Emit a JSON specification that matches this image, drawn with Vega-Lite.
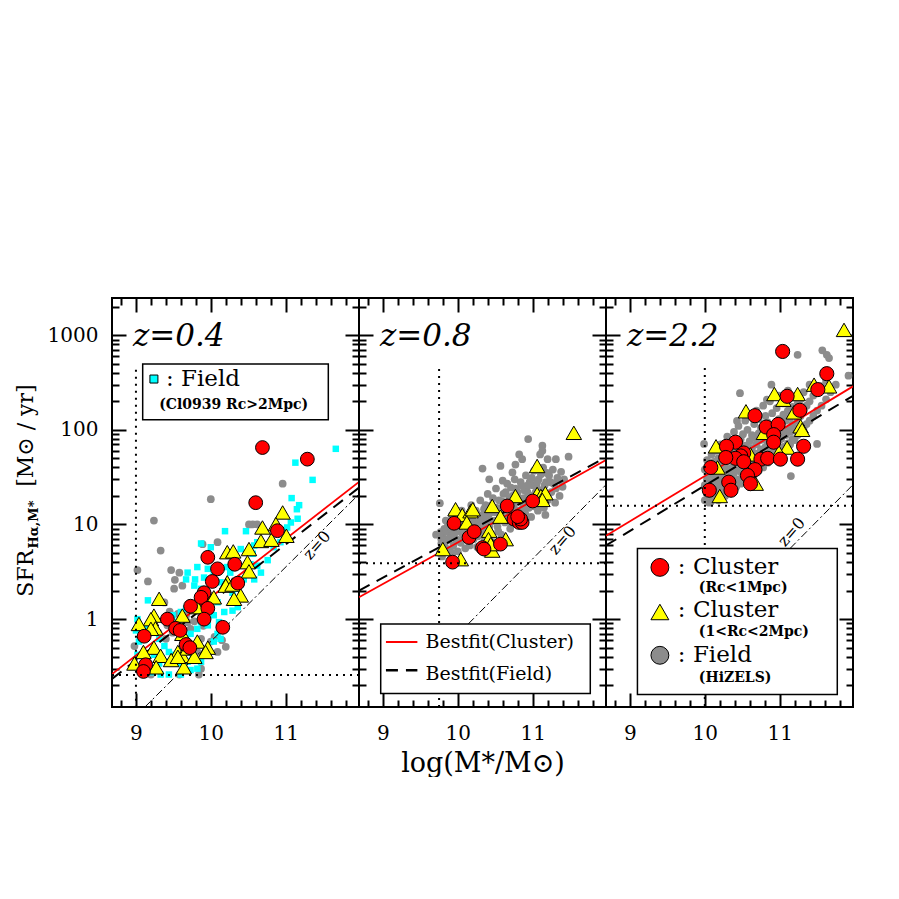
{
"$schema": "https://vega.github.io/schema/vega-lite/v6.json",
"background": "white",
"padding": {"left": 13, "top": 295, "right": 0, "bottom": 0},
"spacing": 0,
"bounds": "flush",
"datasets": {
"pts": [
{"p":1,"t":"G","m":10.96,"s":27},{"p":1,"t":"G","m":10.0,"s":18.5},{"p":1,"t":"G","m":9.24,"s":11},{"p":1,"t":"G","m":10.56,"s":10},{"p":1,"t":"G","m":10.51,"s":10},{"p":1,"t":"G","m":10.62,"s":10},{"p":1,"t":"G","m":10.09,"s":6.5},{"p":1,"t":"G","m":9.89,"s":6.2},{"p":1,"t":"G","m":9.33,"s":5.3},{"p":1,"t":"G","m":9.47,"s":3.3},{"p":1,"t":"G","m":9.58,"s":3.1},{"p":1,"t":"G","m":9.02,"s":3.3},{"p":1,"t":"G","m":9.16,"s":2.5},{"p":1,"t":"G","m":9.62,"s":2.26},{"p":1,"t":"G","m":9.51,"s":2.1},{"p":1,"t":"G","m":9.38,"s":1.5},{"p":1,"t":"G","m":9.56,"s":1.14},{"p":1,"t":"G","m":9.69,"s":0.93},{"p":1,"t":"G","m":9.42,"s":0.86},{"p":1,"t":"G","m":10.13,"s":0.79},{"p":1,"t":"G","m":10.2,"s":0.51},{"p":1,"t":"G","m":9.82,"s":0.45},{"p":1,"t":"G","m":10.09,"s":0.45},{"p":1,"t":"G","m":9.73,"s":0.79},{"p":1,"t":"G","m":9.87,"s":0.62},{"p":1,"t":"G","m":10.0,"s":0.58},{"p":1,"t":"G","m":9.6,"s":0.68},{"p":1,"t":"G","m":9.87,"s":0.3},{"p":1,"t":"G","m":9.84,"s":0.26},{"p":1,"t":"G","m":9.58,"s":0.26},{"p":1,"t":"G","m":9.2,"s":0.26},{"p":1,"t":"G","m":8.98,"s":0.52},{"p":1,"t":"G","m":9.11,"s":0.76},{"p":1,"t":"G","m":9.98,"s":1.78},{"p":1,"t":"G","m":9.87,"s":1.14},{"p":1,"t":"G","m":9.49,"s":0.72},{"p":1,"t":"G","m":9.67,"s":1.1},{"p":1,"t":"G","m":9.52,"s":2.6},{"p":1,"t":"G","m":9.45,"s":1.2},{"p":1,"t":"G","m":9.78,"s":0.95},{"p":1,"t":"G","m":10.05,"s":0.65},{"p":1,"t":"G","m":10.15,"s":0.6},{"p":1,"t":"G","m":9.9,"s":0.85},{"p":1,"t":"G","m":9.65,"s":0.62},{"p":1,"t":"G","m":9.4,"s":0.62},{"p":1,"t":"G","m":9.3,"s":0.72},
{"p":1,"t":"C","m":11.67,"s":63},{"p":1,"t":"C","m":11.13,"s":45},{"p":1,"t":"C","m":11.36,"s":29.6},{"p":1,"t":"C","m":11.08,"s":19},{"p":1,"t":"C","m":11.18,"s":16},{"p":1,"t":"C","m":11.15,"s":14.5},{"p":1,"t":"C","m":11.16,"s":11.5},{"p":1,"t":"C","m":11.07,"s":10.5},{"p":1,"t":"C","m":10.47,"s":8.5},{"p":1,"t":"C","m":10.62,"s":6.5},{"p":1,"t":"C","m":10.19,"s":8.5},{"p":1,"t":"C","m":9.87,"s":6.3},{"p":1,"t":"C","m":10.0,"s":5.75},{"p":1,"t":"C","m":9.69,"s":3.1},{"p":1,"t":"C","m":9.79,"s":2.63},{"p":1,"t":"C","m":9.91,"s":2.75},{"p":1,"t":"C","m":10.13,"s":2.45},{"p":1,"t":"C","m":10.26,"s":3.1},{"p":1,"t":"C","m":10.58,"s":2.63},{"p":1,"t":"C","m":10.44,"s":2.63},{"p":1,"t":"C","m":10.62,"s":3.67},{"p":1,"t":"C","m":10.67,"s":3.1},{"p":1,"t":"C","m":10.76,"s":4.2},{"p":1,"t":"C","m":10.36,"s":1.34},{"p":1,"t":"C","m":10.29,"s":1.23},{"p":1,"t":"C","m":10.04,"s":1.1},{"p":1,"t":"C","m":10.11,"s":0.93},{"p":1,"t":"C","m":10.09,"s":0.7},{"p":1,"t":"C","m":10.04,"s":0.58},{"p":1,"t":"C","m":10.13,"s":0.62},{"p":1,"t":"C","m":9.96,"s":0.42},{"p":1,"t":"C","m":9.87,"s":0.355},{"p":1,"t":"C","m":9.82,"s":0.3},{"p":1,"t":"C","m":9.73,"s":0.29},{"p":1,"t":"C","m":9.6,"s":0.26},{"p":1,"t":"C","m":9.44,"s":0.26},{"p":1,"t":"C","m":9.33,"s":0.26},{"p":1,"t":"C","m":9.2,"s":0.275},{"p":1,"t":"C","m":9.11,"s":0.34},{"p":1,"t":"C","m":9.02,"s":0.42},{"p":1,"t":"C","m":9.04,"s":0.58},{"p":1,"t":"C","m":9.11,"s":0.62},{"p":1,"t":"C","m":9.16,"s":0.79},{"p":1,"t":"C","m":9.0,"s":0.76},{"p":1,"t":"C","m":9.02,"s":1.0},{"p":1,"t":"C","m":9.16,"s":1.58},{"p":1,"t":"C","m":9.44,"s":0.45},{"p":1,"t":"C","m":9.51,"s":0.42},{"p":1,"t":"C","m":9.42,"s":0.355},{"p":1,"t":"C","m":9.56,"s":0.34},{"p":1,"t":"C","m":9.69,"s":0.355},{"p":1,"t":"C","m":9.76,"s":0.42},{"p":1,"t":"C","m":9.67,"s":0.62},{"p":1,"t":"C","m":9.73,"s":0.7},{"p":1,"t":"C","m":9.82,"s":0.79},{"p":1,"t":"C","m":9.87,"s":0.93},{"p":1,"t":"C","m":9.96,"s":0.86},{"p":1,"t":"C","m":9.56,"s":0.93},{"p":1,"t":"C","m":9.49,"s":1.1},{"p":1,"t":"C","m":9.67,"s":1.29},{"p":1,"t":"C","m":9.6,"s":1.19},{"p":1,"t":"C","m":9.31,"s":0.62},{"p":1,"t":"C","m":9.38,"s":0.52},{"p":1,"t":"C","m":9.24,"s":0.42},{"p":1,"t":"C","m":9.31,"s":0.34},{"p":1,"t":"C","m":9.78,"s":2.26},{"p":1,"t":"C","m":9.87,"s":2.09},{"p":1,"t":"C","m":10.04,"s":2.9},{"p":1,"t":"C","m":10.22,"s":3.55},{"p":1,"t":"C","m":10.4,"s":5.5},{"p":1,"t":"C","m":10.58,"s":6.0},{"p":1,"t":"C","m":10.56,"s":4.9},{"p":1,"t":"C","m":10.29,"s":1.9},{"p":1,"t":"C","m":10.36,"s":2.09},{"p":1,"t":"C","m":10.09,"s":1.51},{"p":1,"t":"C","m":10.18,"s":1.19},{"p":1,"t":"C","m":10.53,"s":3.8},{"p":1,"t":"C","m":10.84,"s":5.75},{"p":1,"t":"C","m":10.93,"s":6.5},{"p":1,"t":"C","m":10.96,"s":8.3},{"p":1,"t":"C","m":11.02,"s":9.3},{"p":1,"t":"C","m":9.67,"s":2.63},{"p":1,"t":"C","m":9.82,"s":3.55},{"p":1,"t":"C","m":9.96,"s":3.4},
{"p":1,"t":"Y","m":10.96,"s":13.4},{"p":1,"t":"Y","m":10.69,"s":9.3},{"p":1,"t":"Y","m":10.87,"s":10.1},{"p":1,"t":"Y","m":10.67,"s":6.7},{"p":1,"t":"Y","m":10.81,"s":6.9},{"p":1,"t":"Y","m":11.01,"s":7.6},{"p":1,"t":"Y","m":10.51,"s":5.5},{"p":1,"t":"Y","m":10.22,"s":5.1},{"p":1,"t":"Y","m":10.3,"s":5.2},{"p":1,"t":"Y","m":10.49,"s":4.0},{"p":1,"t":"Y","m":10.51,"s":3.2},{"p":1,"t":"Y","m":10.22,"s":2.45},{"p":1,"t":"Y","m":10.2,"s":2.26},{"p":1,"t":"Y","m":10.29,"s":2.32},{"p":1,"t":"Y","m":10.4,"s":1.78},{"p":1,"t":"Y","m":10.31,"s":1.64},{"p":1,"t":"Y","m":10.04,"s":1.7},{"p":1,"t":"Y","m":9.31,"s":1.64},{"p":1,"t":"Y","m":9.82,"s":1.34},{"p":1,"t":"Y","m":9.62,"s":1.09},{"p":1,"t":"Y","m":9.24,"s":1.09},{"p":1,"t":"Y","m":9.2,"s":1.0},{"p":1,"t":"Y","m":9.04,"s":0.89},{"p":1,"t":"Y","m":9.26,"s":0.8},{"p":1,"t":"Y","m":9.2,"s":0.79},{"p":1,"t":"Y","m":9.62,"s":0.7},{"p":1,"t":"Y","m":9.82,"s":0.58},{"p":1,"t":"Y","m":9.96,"s":0.5},{"p":1,"t":"Y","m":9.93,"s":0.45},{"p":1,"t":"Y","m":9.24,"s":0.5},{"p":1,"t":"Y","m":9.33,"s":0.41},{"p":1,"t":"Y","m":9.56,"s":0.45},{"p":1,"t":"Y","m":9.62,"s":0.41},{"p":1,"t":"Y","m":9.69,"s":0.49},{"p":1,"t":"Y","m":9.47,"s":0.37},{"p":1,"t":"Y","m":9.78,"s":0.4},{"p":1,"t":"Y","m":8.98,"s":0.34},{"p":1,"t":"Y","m":9.27,"s":0.31},{"p":1,"t":"Y","m":9.64,"s":0.31},{"p":1,"t":"Y","m":9.56,"s":0.4},{"p":1,"t":"Y","m":9.1,"s":0.45},
{"p":1,"t":"R","m":10.69,"s":65},{"p":1,"t":"R","m":11.29,"s":49},{"p":1,"t":"R","m":10.6,"s":17},{"p":1,"t":"R","m":10.89,"s":8.6},{"p":1,"t":"R","m":9.96,"s":4.5},{"p":1,"t":"R","m":10.32,"s":3.8},{"p":1,"t":"R","m":10.09,"s":3.4},{"p":1,"t":"R","m":10.02,"s":2.5},{"p":1,"t":"R","m":10.36,"s":2.4},{"p":1,"t":"R","m":9.91,"s":1.9},{"p":1,"t":"R","m":9.87,"s":1.7},{"p":1,"t":"R","m":9.73,"s":1.37},{"p":1,"t":"R","m":9.96,"s":1.3},{"p":1,"t":"R","m":9.42,"s":1.0},{"p":1,"t":"R","m":9.91,"s":1.0},{"p":1,"t":"R","m":9.53,"s":0.8},{"p":1,"t":"R","m":9.59,"s":0.76},{"p":1,"t":"R","m":10.16,"s":0.82},{"p":1,"t":"R","m":9.11,"s":0.66},{"p":1,"t":"R","m":9.67,"s":0.54},{"p":1,"t":"R","m":9.72,"s":0.5},{"p":1,"t":"R","m":9.13,"s":0.33},{"p":1,"t":"R","m":9.1,"s":0.28},
{"p":2,"t":"G","m":10.94,"s":80},{"p":2,"t":"G","m":11.13,"s":68},{"p":2,"t":"G","m":11.13,"s":60},{"p":2,"t":"G","m":11.31,"s":49},{"p":2,"t":"G","m":11.2,"s":49},{"p":2,"t":"G","m":11.48,"s":52},{"p":2,"t":"G","m":11.1,"s":55},{"p":2,"t":"G","m":10.82,"s":55},{"p":2,"t":"G","m":10.86,"s":49},{"p":2,"t":"G","m":10.57,"s":41.5},{"p":2,"t":"G","m":10.77,"s":43},{"p":2,"t":"G","m":10.73,"s":35.5},{"p":2,"t":"G","m":10.33,"s":39},{"p":2,"t":"G","m":10.42,"s":30},{"p":2,"t":"G","m":10.6,"s":29},{"p":2,"t":"G","m":10.71,"s":24.5},{"p":2,"t":"G","m":11.0,"s":26},{"p":2,"t":"G","m":9.76,"s":16.8},{"p":2,"t":"G","m":11.17,"s":12.6},{"p":2,"t":"G","m":9.71,"s":7.8},
{"p":2,"t":"G","m":9.76,"s":5.0},{"p":2,"t":"G","m":9.78,"s":6.3},{"p":2,"t":"G","m":9.8,"s":7.5},{"p":2,"t":"G","m":9.82,"s":9.0},{"p":2,"t":"G","m":9.84,"s":11},{"p":2,"t":"G","m":9.77,"s":8.3},{"p":2,"t":"G","m":9.79,"s":4.6},{"p":2,"t":"G","m":9.86,"s":6.8},{"p":2,"t":"G","m":9.88,"s":5.4},{"p":2,"t":"G","m":9.9,"s":8.0},{"p":2,"t":"G","m":9.92,"s":12.5},{"p":2,"t":"G","m":9.94,"s":6.0},{"p":2,"t":"G","m":9.96,"s":9.5},{"p":2,"t":"G","m":9.98,"s":7.0},{"p":2,"t":"G","m":10.0,"s":5.2},{"p":2,"t":"G","m":10.0,"s":11.5},{"p":2,"t":"G","m":10.02,"s":8.5},{"p":2,"t":"G","m":10.04,"s":6.4},{"p":2,"t":"G","m":10.05,"s":14},{"p":2,"t":"G","m":10.07,"s":9.8},{"p":2,"t":"G","m":10.08,"s":7.6},{"p":2,"t":"G","m":10.1,"s":5.6},{"p":2,"t":"G","m":10.11,"s":12},{"p":2,"t":"G","m":10.13,"s":8.8},{"p":2,"t":"G","m":10.15,"s":10.5},{"p":2,"t":"G","m":10.16,"s":6.0},{"p":2,"t":"G","m":10.18,"s":16},{"p":2,"t":"G","m":10.2,"s":11},{"p":2,"t":"G","m":10.21,"s":7.0},{"p":2,"t":"G","m":10.23,"s":9.3},{"p":2,"t":"G","m":10.25,"s":13},{"p":2,"t":"G","m":10.26,"s":5.8},{"p":2,"t":"G","m":10.28,"s":8.0},{"p":2,"t":"G","m":10.3,"s":18},{"p":2,"t":"G","m":10.31,"s":11.5},{"p":2,"t":"G","m":10.33,"s":9.0},{"p":2,"t":"G","m":10.35,"s":14.5},{"p":2,"t":"G","m":10.36,"s":6.8},{"p":2,"t":"G","m":10.38,"s":10},{"p":2,"t":"G","m":10.4,"s":21},{"p":2,"t":"G","m":10.41,"s":12.5},{"p":2,"t":"G","m":10.43,"s":8.2},{"p":2,"t":"G","m":10.45,"s":16},{"p":2,"t":"G","m":10.46,"s":10.8},{"p":2,"t":"G","m":10.48,"s":6.5},{"p":2,"t":"G","m":10.5,"s":13.5},{"p":2,"t":"G","m":10.51,"s":24},{"p":2,"t":"G","m":10.53,"s":9.5},{"p":2,"t":"G","m":10.55,"s":18},{"p":2,"t":"G","m":10.56,"s":11.5},{"p":2,"t":"G","m":10.58,"s":7.8},{"p":2,"t":"G","m":10.6,"s":15},{"p":2,"t":"G","m":10.61,"s":21},{"p":2,"t":"G","m":10.63,"s":10.5},{"p":2,"t":"G","m":10.65,"s":13},{"p":2,"t":"G","m":10.66,"s":27},{"p":2,"t":"G","m":10.68,"s":17},{"p":2,"t":"G","m":10.7,"s":9.0},{"p":2,"t":"G","m":10.71,"s":12},{"p":2,"t":"G","m":10.73,"s":20},{"p":2,"t":"G","m":10.75,"s":15},{"p":2,"t":"G","m":10.76,"s":30},{"p":2,"t":"G","m":10.78,"s":11},{"p":2,"t":"G","m":10.8,"s":22},{"p":2,"t":"G","m":10.81,"s":14},{"p":2,"t":"G","m":10.83,"s":17.5},{"p":2,"t":"G","m":10.85,"s":26},{"p":2,"t":"G","m":10.86,"s":9.8},{"p":2,"t":"G","m":10.88,"s":19},{"p":2,"t":"G","m":10.9,"s":13},{"p":2,"t":"G","m":10.91,"s":33},{"p":2,"t":"G","m":10.93,"s":22},{"p":2,"t":"G","m":10.95,"s":15},{"p":2,"t":"G","m":10.96,"s":28},{"p":2,"t":"G","m":10.98,"s":12},{"p":2,"t":"G","m":11.0,"s":20},{"p":2,"t":"G","m":11.02,"s":37},{"p":2,"t":"G","m":11.03,"s":16},{"p":2,"t":"G","m":11.05,"s":25},{"p":2,"t":"G","m":11.07,"s":14},{"p":2,"t":"G","m":11.08,"s":30},{"p":2,"t":"G","m":11.1,"s":19},{"p":2,"t":"G","m":11.12,"s":23},{"p":2,"t":"G","m":11.14,"s":40},{"p":2,"t":"G","m":11.15,"s":15},{"p":2,"t":"G","m":11.18,"s":28},{"p":2,"t":"G","m":11.2,"s":18},{"p":2,"t":"G","m":11.22,"s":33},{"p":2,"t":"G","m":11.25,"s":22},{"p":2,"t":"G","m":11.28,"s":27},{"p":2,"t":"G","m":11.3,"s":17},{"p":2,"t":"G","m":11.33,"s":31},{"p":2,"t":"G","m":11.36,"s":20},{"p":2,"t":"G","m":11.4,"s":25},
{"p":2,"t":"G","m":9.78,"s":7.0},{"p":2,"t":"G","m":9.83,"s":5.8},{"p":2,"t":"G","m":9.85,"s":8.5},{"p":2,"t":"G","m":9.87,"s":10},{"p":2,"t":"G","m":9.89,"s":7.2},{"p":2,"t":"G","m":9.91,"s":9.0},{"p":2,"t":"G","m":9.93,"s":5.0},{"p":2,"t":"G","m":9.95,"s":7.8},{"p":2,"t":"G","m":9.97,"s":11},{"p":2,"t":"G","m":9.99,"s":8.8},{"p":2,"t":"G","m":10.01,"s":6.8},{"p":2,"t":"G","m":10.03,"s":10.2},{"p":2,"t":"G","m":10.06,"s":8.0},{"p":2,"t":"G","m":10.09,"s":11},{"p":2,"t":"G","m":10.12,"s":7.2},{"p":2,"t":"G","m":10.14,"s":9.5},{"p":2,"t":"G","m":10.17,"s":12.5},{"p":2,"t":"G","m":10.19,"s":8.5},{"p":2,"t":"G","m":10.22,"s":10.5},{"p":2,"t":"G","m":10.24,"s":14},{"p":2,"t":"G","m":10.27,"s":7.5},{"p":2,"t":"G","m":10.29,"s":10.5},{"p":2,"t":"G","m":10.32,"s":12.5},{"p":2,"t":"G","m":10.34,"s":7.8},{"p":2,"t":"G","m":10.37,"s":16},{"p":2,"t":"G","m":10.39,"s":11.5},{"p":2,"t":"G","m":10.42,"s":9.5},{"p":2,"t":"G","m":10.44,"s":13.5},{"p":2,"t":"G","m":10.47,"s":19},{"p":2,"t":"G","m":10.49,"s":11},{"p":2,"t":"G","m":10.52,"s":15},{"p":2,"t":"G","m":10.54,"s":8.5},{"p":2,"t":"G","m":10.57,"s":13},{"p":2,"t":"G","m":10.59,"s":17.5},{"p":2,"t":"G","m":10.62,"s":11.8},{"p":2,"t":"G","m":10.64,"s":22},{"p":2,"t":"G","m":10.67,"s":14},{"p":2,"t":"G","m":10.69,"s":19},{"p":2,"t":"G","m":10.72,"s":10},{"p":2,"t":"G","m":10.74,"s":16},{"p":2,"t":"G","m":10.77,"s":24},{"p":2,"t":"G","m":10.79,"s":13},{"p":2,"t":"G","m":10.82,"s":19},{"p":2,"t":"G","m":10.84,"s":28},{"p":2,"t":"G","m":10.87,"s":15},{"p":2,"t":"G","m":10.89,"s":23},{"p":2,"t":"G","m":10.92,"s":17},{"p":2,"t":"G","m":10.94,"s":26},{"p":2,"t":"G","m":10.97,"s":20},{"p":2,"t":"G","m":10.99,"s":31},{"p":2,"t":"G","m":11.01,"s":15.5},{"p":2,"t":"G","m":11.04,"s":22},{"p":2,"t":"G","m":11.06,"s":28},{"p":2,"t":"G","m":11.09,"s":17},{"p":2,"t":"G","m":11.11,"s":34},{"p":2,"t":"G","m":11.13,"s":22},{"p":2,"t":"G","m":11.16,"s":26},{"p":2,"t":"G","m":11.19,"s":35},{"p":2,"t":"G","m":11.21,"s":21},{"p":2,"t":"G","m":11.24,"s":28},{"p":2,"t":"G","m":11.27,"s":38},{"p":2,"t":"G","m":11.31,"s":24},{"p":2,"t":"G","m":11.35,"s":29},{"p":2,"t":"G","m":11.38,"s":36},{"p":2,"t":"G","m":11.42,"s":30},
{"p":2,"t":"Y","m":11.55,"s":93},{"p":2,"t":"Y","m":11.06,"s":41.5},{"p":2,"t":"Y","m":9.97,"s":14.5},{"p":2,"t":"Y","m":10.06,"s":12.6},{"p":2,"t":"Y","m":10.17,"s":13.8},{"p":2,"t":"Y","m":10.2,"s":14.5},{"p":2,"t":"Y","m":10.46,"s":15.7},{"p":2,"t":"Y","m":10.57,"s":12.1},{"p":2,"t":"Y","m":10.77,"s":20},{"p":2,"t":"Y","m":11.06,"s":21},{"p":2,"t":"Y","m":11.11,"s":20},{"p":2,"t":"Y","m":11.17,"s":21.4},{"p":2,"t":"Y","m":11.13,"s":18.2},{"p":2,"t":"Y","m":10.42,"s":8.6},{"p":2,"t":"Y","m":10.41,"s":7.0},{"p":2,"t":"Y","m":10.46,"s":5.3},{"p":2,"t":"Y","m":10.64,"s":7.0},{"p":2,"t":"Y","m":9.8,"s":5.5},{"p":2,"t":"Y","m":10.04,"s":4.3},{"p":2,"t":"Y","m":10.12,"s":10.5},{"p":2,"t":"Y","m":10.44,"s":6.2},
{"p":2,"t":"R","m":9.95,"s":10.3},{"p":2,"t":"R","m":9.93,"s":4.0},{"p":2,"t":"R","m":10.15,"s":7.3},{"p":2,"t":"R","m":10.22,"s":8.4},{"p":2,"t":"R","m":10.33,"s":5.7},{"p":2,"t":"R","m":10.35,"s":5.5},{"p":2,"t":"R","m":10.57,"s":6.2},{"p":2,"t":"R","m":10.66,"s":15.7},{"p":2,"t":"R","m":10.75,"s":11.4},{"p":2,"t":"R","m":10.82,"s":10.5},{"p":2,"t":"R","m":10.86,"s":10.5},{"p":2,"t":"R","m":10.84,"s":11.4},{"p":2,"t":"R","m":10.8,"s":12.1},{"p":2,"t":"R","m":11.0,"s":17.7},
{"p":3,"t":"G","m":11.24,"s":621},{"p":3,"t":"G","m":11.63,"s":621},{"p":3,"t":"G","m":11.66,"s":573},{"p":3,"t":"G","m":11.57,"s":692},{"p":3,"t":"G","m":11.92,"s":373},{"p":3,"t":"G","m":10.89,"s":300},{"p":3,"t":"G","m":10.47,"s":244},{"p":3,"t":"G","m":10.83,"s":208},{"p":3,"t":"G","m":10.43,"s":124},{"p":3,"t":"G","m":9.99,"s":71},{"p":3,"t":"G","m":11.15,"s":32.5},{"p":3,"t":"G","m":11.5,"s":71},{"p":3,"t":"G","m":10.08,"s":17.4},
{"p":3,"t":"G","m":10.0,"s":18},{"p":3,"t":"G","m":10.0,"s":26},{"p":3,"t":"G","m":10.0,"s":38},{"p":3,"t":"G","m":10.03,"s":21},{"p":3,"t":"G","m":10.03,"s":30},{"p":3,"t":"G","m":10.03,"s":48},{"p":3,"t":"G","m":10.06,"s":17},{"p":3,"t":"G","m":10.06,"s":25},{"p":3,"t":"G","m":10.06,"s":34},{"p":3,"t":"G","m":10.09,"s":20},{"p":3,"t":"G","m":10.09,"s":28},{"p":3,"t":"G","m":10.09,"s":42},{"p":3,"t":"G","m":10.09,"s":55},{"p":3,"t":"G","m":10.12,"s":19},{"p":3,"t":"G","m":10.12,"s":24},{"p":3,"t":"G","m":10.12,"s":33},{"p":3,"t":"G","m":10.12,"s":46},{"p":3,"t":"G","m":10.15,"s":22},{"p":3,"t":"G","m":10.15,"s":29},{"p":3,"t":"G","m":10.15,"s":38},{"p":3,"t":"G","m":10.15,"s":60},{"p":3,"t":"G","m":10.18,"s":18},{"p":3,"t":"G","m":10.18,"s":26},{"p":3,"t":"G","m":10.18,"s":35},{"p":3,"t":"G","m":10.18,"s":50},{"p":3,"t":"G","m":10.21,"s":21},{"p":3,"t":"G","m":10.21,"s":31},{"p":3,"t":"G","m":10.21,"s":44},{"p":3,"t":"G","m":10.21,"s":70},{"p":3,"t":"G","m":10.24,"s":24},{"p":3,"t":"G","m":10.24,"s":28},{"p":3,"t":"G","m":10.24,"s":37},{"p":3,"t":"G","m":10.24,"s":56},{"p":3,"t":"G","m":10.27,"s":20},{"p":3,"t":"G","m":10.27,"s":33},{"p":3,"t":"G","m":10.27,"s":41},{"p":3,"t":"G","m":10.27,"s":62},{"p":3,"t":"G","m":10.3,"s":23},{"p":3,"t":"G","m":10.3,"s":30},{"p":3,"t":"G","m":10.3,"s":47},{"p":3,"t":"G","m":10.3,"s":85},{"p":3,"t":"G","m":10.33,"s":26},{"p":3,"t":"G","m":10.33,"s":36},{"p":3,"t":"G","m":10.33,"s":52},{"p":3,"t":"G","m":10.36,"s":22},{"p":3,"t":"G","m":10.36,"s":31},{"p":3,"t":"G","m":10.36,"s":40},{"p":3,"t":"G","m":10.36,"s":66},{"p":3,"t":"G","m":10.39,"s":28},{"p":3,"t":"G","m":10.39,"s":35},{"p":3,"t":"G","m":10.39,"s":58},{"p":3,"t":"G","m":10.39,"s":95},{"p":3,"t":"G","m":10.42,"s":25},{"p":3,"t":"G","m":10.42,"s":38},{"p":3,"t":"G","m":10.42,"s":46},{"p":3,"t":"G","m":10.42,"s":72},{"p":3,"t":"G","m":10.45,"s":30},{"p":3,"t":"G","m":10.45,"s":42},{"p":3,"t":"G","m":10.45,"s":55},{"p":3,"t":"G","m":10.45,"s":110},{"p":3,"t":"G","m":10.48,"s":27},{"p":3,"t":"G","m":10.48,"s":36},{"p":3,"t":"G","m":10.48,"s":63},{"p":3,"t":"G","m":10.48,"s":80},{"p":3,"t":"G","m":10.51,"s":32},{"p":3,"t":"G","m":10.51,"s":45},{"p":3,"t":"G","m":10.51,"s":52},{"p":3,"t":"G","m":10.51,"s":90},{"p":3,"t":"G","m":10.54,"s":29},{"p":3,"t":"G","m":10.54,"s":40},{"p":3,"t":"G","m":10.54,"s":68},{"p":3,"t":"G","m":10.54,"s":125},{"p":3,"t":"G","m":10.57,"s":35},{"p":3,"t":"G","m":10.57,"s":48},{"p":3,"t":"G","m":10.57,"s":58},{"p":3,"t":"G","m":10.57,"s":100},{"p":3,"t":"G","m":10.6,"s":31},{"p":3,"t":"G","m":10.6,"s":43},{"p":3,"t":"G","m":10.6,"s":76},{"p":3,"t":"G","m":10.6,"s":140},{"p":3,"t":"G","m":10.63,"s":38},{"p":3,"t":"G","m":10.63,"s":52},{"p":3,"t":"G","m":10.63,"s":64},{"p":3,"t":"G","m":10.63,"s":88},{"p":3,"t":"G","m":10.66,"s":34},{"p":3,"t":"G","m":10.66,"s":47},{"p":3,"t":"G","m":10.66,"s":82},{"p":3,"t":"G","m":10.66,"s":115},{"p":3,"t":"G","m":10.69,"s":41},{"p":3,"t":"G","m":10.69,"s":56},{"p":3,"t":"G","m":10.69,"s":70},{"p":3,"t":"G","m":10.69,"s":160},{"p":3,"t":"G","m":10.72,"s":37},{"p":3,"t":"G","m":10.72,"s":50},{"p":3,"t":"G","m":10.72,"s":92},{"p":3,"t":"G","m":10.72,"s":130},{"p":3,"t":"G","m":10.75,"s":44},{"p":3,"t":"G","m":10.75,"s":62},{"p":3,"t":"G","m":10.75,"s":78},{"p":3,"t":"G","m":10.75,"s":105},{"p":3,"t":"G","m":10.78,"s":40},{"p":3,"t":"G","m":10.78,"s":55},{"p":3,"t":"G","m":10.78,"s":86},{"p":3,"t":"G","m":10.78,"s":180},{"p":3,"t":"G","m":10.81,"s":48},{"p":3,"t":"G","m":10.81,"s":66},{"p":3,"t":"G","m":10.81,"s":98},{"p":3,"t":"G","m":10.81,"s":140},{"p":3,"t":"G","m":10.84,"s":45},{"p":3,"t":"G","m":10.84,"s":60},{"p":3,"t":"G","m":10.84,"s":75},{"p":3,"t":"G","m":10.84,"s":120},{"p":3,"t":"G","m":10.87,"s":52},{"p":3,"t":"G","m":10.87,"s":70},{"p":3,"t":"G","m":10.87,"s":105},{"p":3,"t":"G","m":10.87,"s":200},{"p":3,"t":"G","m":10.9,"s":49},{"p":3,"t":"G","m":10.9,"s":64},{"p":3,"t":"G","m":10.9,"s":90},{"p":3,"t":"G","m":10.9,"s":150},{"p":3,"t":"G","m":10.93,"s":56},{"p":3,"t":"G","m":10.93,"s":78},{"p":3,"t":"G","m":10.93,"s":115},{"p":3,"t":"G","m":10.96,"s":53},{"p":3,"t":"G","m":10.96,"s":72},{"p":3,"t":"G","m":10.96,"s":96},{"p":3,"t":"G","m":10.96,"s":170},{"p":3,"t":"G","m":10.99,"s":60},{"p":3,"t":"G","m":10.99,"s":85},{"p":3,"t":"G","m":10.99,"s":130},{"p":3,"t":"G","m":10.99,"s":230},{"p":3,"t":"G","m":11.02,"s":58},{"p":3,"t":"G","m":11.02,"s":80},{"p":3,"t":"G","m":11.02,"s":110},{"p":3,"t":"G","m":11.05,"s":66},{"p":3,"t":"G","m":11.05,"s":92},{"p":3,"t":"G","m":11.05,"s":145},{"p":3,"t":"G","m":11.05,"s":190},{"p":3,"t":"G","m":11.08,"s":63},{"p":3,"t":"G","m":11.08,"s":88},{"p":3,"t":"G","m":11.08,"s":125},{"p":3,"t":"G","m":11.11,"s":72},{"p":3,"t":"G","m":11.11,"s":100},{"p":3,"t":"G","m":11.11,"s":160},{"p":3,"t":"G","m":11.11,"s":260},{"p":3,"t":"G","m":11.14,"s":70},{"p":3,"t":"G","m":11.14,"s":95},{"p":3,"t":"G","m":11.14,"s":135},{"p":3,"t":"G","m":11.17,"s":80},{"p":3,"t":"G","m":11.17,"s":115},{"p":3,"t":"G","m":11.17,"s":175},{"p":3,"t":"G","m":11.2,"s":78},{"p":3,"t":"G","m":11.2,"s":105},{"p":3,"t":"G","m":11.2,"s":150},{"p":3,"t":"G","m":11.2,"s":220},{"p":3,"t":"G","m":11.24,"s":88},{"p":3,"t":"G","m":11.24,"s":125},{"p":3,"t":"G","m":11.24,"s":190},{"p":3,"t":"G","m":11.28,"s":95},{"p":3,"t":"G","m":11.28,"s":140},{"p":3,"t":"G","m":11.28,"s":210},{"p":3,"t":"G","m":11.32,"s":105},{"p":3,"t":"G","m":11.32,"s":160},{"p":3,"t":"G","m":11.32,"s":250},{"p":3,"t":"G","m":11.36,"s":115},{"p":3,"t":"G","m":11.36,"s":180},{"p":3,"t":"G","m":11.4,"s":125},{"p":3,"t":"G","m":11.4,"s":200},{"p":3,"t":"G","m":11.4,"s":300},{"p":3,"t":"G","m":11.45,"s":140},{"p":3,"t":"G","m":11.45,"s":230},{"p":3,"t":"G","m":11.5,"s":160},{"p":3,"t":"G","m":11.5,"s":260},{"p":3,"t":"G","m":11.56,"s":180},{"p":3,"t":"G","m":11.56,"s":290},{"p":3,"t":"G","m":11.62,"s":210},{"p":3,"t":"G","m":11.62,"s":330},{"p":3,"t":"G","m":11.68,"s":250},{"p":3,"t":"G","m":11.75,"s":300},
{"p":3,"t":"Y","m":11.86,"s":1137},{"p":3,"t":"Y","m":10.93,"s":239},{"p":3,"t":"Y","m":11.24,"s":239},{"p":3,"t":"Y","m":11.46,"s":300},{"p":3,"t":"Y","m":11.66,"s":288},{"p":3,"t":"Y","m":11.05,"s":208},{"p":3,"t":"Y","m":10.55,"s":157},{"p":3,"t":"Y","m":11.19,"s":153},{"p":3,"t":"Y","m":11.28,"s":109},{"p":3,"t":"Y","m":11.3,"s":100},{"p":3,"t":"Y","m":10.79,"s":93},{"p":3,"t":"Y","m":10.15,"s":67},{"p":3,"t":"Y","m":11.1,"s":65},{"p":3,"t":"Y","m":10.99,"s":58},{"p":3,"t":"Y","m":10.61,"s":55},{"p":3,"t":"Y","m":10.17,"s":40},{"p":3,"t":"Y","m":10.2,"s":20},{"p":3,"t":"Y","m":10.68,"s":27},
{"p":3,"t":"R","m":11.04,"s":673},{"p":3,"t":"R","m":11.63,"s":392},{"p":3,"t":"R","m":11.51,"s":266},{"p":3,"t":"R","m":11.1,"s":226},{"p":3,"t":"R","m":11.27,"s":161},{"p":3,"t":"R","m":10.67,"s":141},{"p":3,"t":"R","m":10.82,"s":107},{"p":3,"t":"R","m":10.98,"s":114},{"p":3,"t":"R","m":10.92,"s":89},{"p":3,"t":"R","m":10.92,"s":74},{"p":3,"t":"R","m":10.41,"s":74},{"p":3,"t":"R","m":10.29,"s":67},{"p":3,"t":"R","m":11.32,"s":67},{"p":3,"t":"R","m":10.52,"s":57},{"p":3,"t":"R","m":10.48,"s":53},{"p":3,"t":"R","m":10.41,"s":50},{"p":3,"t":"R","m":10.28,"s":51},{"p":3,"t":"R","m":10.52,"s":46},{"p":3,"t":"R","m":10.75,"s":49},{"p":3,"t":"R","m":10.84,"s":50},{"p":3,"t":"R","m":11.01,"s":49},{"p":3,"t":"R","m":11.24,"s":49},{"p":3,"t":"R","m":10.08,"s":40},{"p":3,"t":"R","m":10.67,"s":38},{"p":3,"t":"R","m":10.57,"s":33},{"p":3,"t":"R","m":10.32,"s":28},{"p":3,"t":"R","m":10.61,"s":27},{"p":3,"t":"R","m":10.35,"s":23},{"p":3,"t":"R","m":10.06,"s":23}
],
"fits": [
{"p":1,"f":"cl","seg":"a","m":8.68,"s":0.263},{"p":1,"f":"cl","seg":"a","m":11.98,"s":28.2},
{"p":1,"f":"fd","seg":"b","m":8.68,"s":0.234},{"p":1,"f":"fd","seg":"b","m":11.98,"s":24.5},
{"p":1,"f":"z0","seg":"c","m":9.12,"s":0.118},{"p":1,"f":"z0","seg":"c","m":11.98,"s":20.9},
{"p":2,"f":"cl","seg":"a","m":8.68,"s":1.7},{"p":2,"f":"cl","seg":"a","m":11.98,"s":47.9},
{"p":2,"f":"fd","seg":"b","m":8.68,"s":2.0},{"p":2,"f":"fd","seg":"b","m":11.98,"s":51.3},
{"p":2,"f":"z0","seg":"c","m":10.14,"s":0.89},{"p":2,"f":"z0","seg":"c","m":11.98,"s":26.3},
{"p":3,"f":"cl","seg":"a","m":8.68,"s":7.6},{"p":3,"f":"cl","seg":"a","m":11.98,"s":288},
{"p":3,"f":"fd","seg":"b","m":8.68,"s":6.0},{"p":3,"f":"fd","seg":"b","m":11.98,"s":229},
{"p":3,"f":"z0","seg":"c","m":11.14,"s":5.59},{"p":3,"f":"z0","seg":"c","m":11.98,"s":26.3}
],
"keylines": [
{"p":2,"f":"cl","m":9.04,"s":0.573},{"p":2,"f":"cl","m":9.46,"s":0.573},
{"p":2,"f":"fd","m":9.04,"s":0.288},{"p":2,"f":"fd","m":9.46,"s":0.288}
],
"vref": [
{"p":1,"m":9.0,"s1":430,"s2":0.118},{"p":2,"m":9.75,"s1":440,"s2":0.118},{"p":3,"m":10.0,"s1":450,"s2":0.118}
],
"href": [
{"p":1,"s":0.257},{"p":2,"s":3.9},{"p":3,"s":15.8}
],
"zlab": [
{"p":1,"m":11.42,"s":6.0,"text":"z=0"},{"p":2,"m":11.4,"s":6.8,"text":"z=0"},{"p":3,"m":11.16,"s":8.3,"text":"z=0"}
],
"boxes": [
{"p":1,"m1":9.09,"m2":11.57,"s1":495,"s2":128},{"p":2,"m1":8.97,"m2":11.77,"s1":0.89,"s2":0.164},{"p":3,"m1":9.1,"m2":11.77,"s1":5.59,"s2":0.16}
],
"keysym": [
{"p":1,"t":"C","m":9.24,"s":344},{"p":3,"t":"R","m":9.4,"s":3.52},{"p":3,"t":"Y","m":9.4,"s":1.19},{"p":3,"t":"G","m":9.4,"s":0.415}
],
"keytext": [
{"p":1,"role":"label","m":9.4,"s":344,"text":": Field"},
{"p":1,"role":"note","m":9.31,"s":183,"text":"(Cl0939 Rc>2Mpc)"},
{"p":2,"role":"fit","m":9.57,"s":0.573,"text":"Bestfit(Cluster)"},
{"p":2,"role":"fit","m":9.57,"s":0.265,"text":"Bestfit(Field)"},
{"p":3,"role":"label","m":9.64,"s":3.52,"text":": Cluster"},
{"p":3,"role":"note","m":9.92,"s":2.12,"text":"(Rc<1Mpc)"},
{"p":3,"role":"label","m":9.64,"s":1.24,"text":": Cluster"},
{"p":3,"role":"note","m":9.92,"s":0.74,"text":"(1<Rc<2Mpc)"},
{"p":3,"role":"label","m":9.64,"s":0.415,"text":": Field"},
{"p":3,"role":"note","m":9.92,"s":0.24,"text":"(HiZELS)"}
],
"ptitle": [
{"p":1,"m":8.96,"s":955,"text":"z=0.4"},{"p":2,"m":8.96,"s":955,"text":"z=0.8"},{"p":3,"m":8.96,"s":955,"text":"z=2.2"}
]
},
"hconcat": [
{
"width": 247, "height": 409,
"resolve": {"axis": {"x": "independent", "y": "independent"}},
"layer": [
{"data": {"name": "pts"}, "transform": [{"filter": "datum.p==1 && datum.t=='G'"}],
 "mark": {"type": "point", "shape": "circle", "filled": true, "fill": "#8c8c8c", "strokeWidth": 0, "size": 60, "opacity": 1, "clip": true},
 "encoding": {
  "x": {"field": "m", "type": "quantitative", "scale": {"domain": [8.68, 11.98], "nice": false, "zero": false},
   "axis": {"orient": "bottom", "values": [8.8,9,9.2,9.4,9.6,9.8,10,10.2,10.4,10.6,10.8,11,11.2,11.4,11.6,11.8], "labelExpr": "abs(datum.value-round(datum.value))<0.01 ? format(datum.value,'d') : ''", "tickSize": {"condition": {"test": "abs(datum.value-round(datum.value))<0.01", "value": -14}, "value": -7}, "labelPadding": 30, "title": null}},
  "y": {"field": "s", "type": "quantitative", "scale": {"type": "log", "domain": [0.118, 2470], "nice": false},
   "axis": {"orient": "left", "values": [0.2,0.3,0.4,0.5,0.6,0.7,0.8,0.9,1,2,3,4,5,6,7,8,9,10,20,30,40,50,60,70,80,90,100,200,300,400,500,600,700,800,900,1000,2000], "labelExpr": "indexof([1,10,100,1000],datum.value)>=0 ? format(datum.value,'d') : ''", "tickSize": {"condition": {"test": "indexof([1,10,100,1000],datum.value)>=0", "value": -14}, "value": -7}, "labelPadding": 28,
    "title": "SFR\u00a0\u00a0\u00a0\u00a0\u00a0\u00a0\u00a0\u00a0\u00a0[M\u2299\u00a0/\u00a0yr]", "titleFontSize": 22, "titleAngle": -90, "titleX": -80, "titleY": 192, "titleAlign": "center", "titleBaseline": "alphabetic"}}}},
{"data": {"name": "pts"}, "transform": [{"filter": "datum.p==1 && datum.t=='C'"}],
 "mark": {"type": "point", "shape": "square", "filled": true, "fill": "#00ffff", "strokeWidth": 0, "size": 42, "opacity": 1, "clip": true},
 "encoding": {"x": {"field": "m", "type": "quantitative", "axis": null}, "y": {"field": "s", "type": "quantitative", "axis": null}}},
{"data": {"name": "fits"}, "transform": [{"filter": "datum.p==1 && datum.f=='cl'"}],
 "mark": {"type": "line", "color": "#ff0000", "strokeWidth": 1.8, "clip": true},
 "encoding": {
  "x": {"field": "m", "type": "quantitative", "axis": {"orient": "top", "values": [8.8,9,9.2,9.4,9.6,9.8,10,10.2,10.4,10.6,10.8,11,11.2,11.4,11.6,11.8], "labels": false, "tickSize": {"condition": {"test": "abs(datum.value-round(datum.value))<0.01", "value": -14}, "value": -7}, "title": null}},
  "y": {"field": "s", "type": "quantitative", "axis": {"orient": "right", "values": [0.2,0.3,0.4,0.5,0.6,0.7,0.8,0.9,1,2,3,4,5,6,7,8,9,10,20,30,40,50,60,70,80,90,100,200,300,400,500,600,700,800,900,1000,2000], "labels": false, "tickSize": {"condition": {"test": "indexof([1,10,100,1000],datum.value)>=0", "value": -14}, "value": -7}, "title": null}},
  "detail": {"field": "seg"}}},
{"data": {"name": "fits"}, "transform": [{"filter": "datum.p==1 && datum.f=='fd'"}],
 "mark": {"type": "line", "color": "black", "strokeWidth": 2, "strokeDash": [12, 8], "clip": true},
 "encoding": {"x": {"field": "m", "type": "quantitative", "axis": null}, "y": {"field": "s", "type": "quantitative", "axis": null}, "detail": {"field": "seg"}}},
{"data": {"name": "fits"}, "transform": [{"filter": "datum.p==1 && datum.f=='z0'"}],
 "mark": {"type": "line", "color": "black", "strokeWidth": 1, "strokeDash": [8, 3, 2, 3], "clip": true},
 "encoding": {"x": {"field": "m", "type": "quantitative", "axis": null}, "y": {"field": "s", "type": "quantitative", "axis": null}, "detail": {"field": "seg"}}},
{"data": {"name": "pts"}, "transform": [{"filter": "datum.p==1 && datum.t=='Y'"}],
 "mark": {"type": "point", "shape": "triangle-up", "filled": true, "fill": "#ffff00", "stroke": "black", "strokeWidth": 1, "size": 240, "opacity": 1, "clip": true},
 "encoding": {"x": {"field": "m", "type": "quantitative", "axis": null}, "y": {"field": "s", "type": "quantitative", "axis": null}}},
{"data": {"name": "pts"}, "transform": [{"filter": "datum.p==1 && datum.t=='R'"}],
 "mark": {"type": "point", "shape": "circle", "filled": true, "fill": "#ff0000", "stroke": "black", "strokeWidth": 1, "size": 190, "opacity": 1, "clip": true},
 "encoding": {"x": {"field": "m", "type": "quantitative", "axis": null}, "y": {"field": "s", "type": "quantitative", "axis": null}}},
{"data": {"name": "vref"}, "transform": [{"filter": "datum.p==1"}],
 "mark": {"type": "rule", "color": "black", "strokeWidth": 2, "strokeDash": [2, 5]},
 "encoding": {"x": {"field": "m", "type": "quantitative", "axis": null}, "y": {"field": "s1", "type": "quantitative", "axis": null}, "y2": {"field": "s2"}}},
{"data": {"name": "href"}, "transform": [{"filter": "datum.p==1"}],
 "mark": {"type": "rule", "color": "black", "strokeWidth": 2, "strokeDash": [2, 5]},
 "encoding": {"y": {"field": "s", "type": "quantitative", "axis": null}}},
{"data": {"name": "zlab"}, "transform": [{"filter": "datum.p==1"}],
 "mark": {"type": "text", "font": "DejaVu Serif", "fontSize": 16, "angle": 311, "align": "center", "baseline": "middle", "color": "black"},
 "encoding": {"x": {"field": "m", "type": "quantitative", "axis": null}, "y": {"field": "s", "type": "quantitative", "axis": null}, "text": {"field": "text"}}},
{"data": {"name": "boxes"}, "transform": [{"filter": "datum.p==1"}],
 "mark": {"type": "rect", "fill": "white", "stroke": "black", "strokeWidth": 1.5},
 "encoding": {"x": {"field": "m1", "type": "quantitative", "axis": null}, "x2": {"field": "m2"}, "y": {"field": "s1", "type": "quantitative", "axis": null}, "y2": {"field": "s2"}}},
{"data": {"name": "keysym"}, "transform": [{"filter": "datum.p==1 && datum.t=='C'"}],
 "mark": {"type": "point", "shape": "square", "filled": true, "fill": "#00ffff", "stroke": "black", "strokeWidth": 1, "size": 64, "opacity": 1},
 "encoding": {"x": {"field": "m", "type": "quantitative", "axis": null}, "y": {"field": "s", "type": "quantitative", "axis": null}}},
{"data": {"name": "keytext"}, "transform": [{"filter": "datum.p==1 && datum.role=='label'"}],
 "mark": {"type": "text", "font": "DejaVu Serif", "fontSize": 23, "align": "left", "baseline": "middle", "color": "black"},
 "encoding": {"x": {"field": "m", "type": "quantitative", "axis": null}, "y": {"field": "s", "type": "quantitative", "axis": null}, "text": {"field": "text"}}},
{"data": {"name": "keytext"}, "transform": [{"filter": "datum.p==1 && datum.role=='note'"}],
 "mark": {"type": "text", "font": "DejaVu Serif", "fontSize": 14, "fontWeight": "bold", "align": "left", "baseline": "middle", "color": "black"},
 "encoding": {"x": {"field": "m", "type": "quantitative", "axis": null}, "y": {"field": "s", "type": "quantitative", "axis": null}, "text": {"field": "text"}}},
{"data": {"name": "ptitle"}, "transform": [{"filter": "datum.p==1"}],
 "mark": {"type": "text", "font": "DejaVu Serif", "fontStyle": "italic", "fontSize": 31, "align": "left", "baseline": "middle", "color": "black"},
 "encoding": {"x": {"field": "m", "type": "quantitative", "axis": null},
  "y": {"field": "s", "type": "quantitative", "axis": {"orient": "left", "labels": false, "ticks": false, "title": "H\u03b1,M*", "titleFontSize": 13, "titleFontWeight": "bold", "titleAngle": -90, "titleX": -75, "titleY": 226, "titleAlign": "center", "titleBaseline": "alphabetic"}},
  "text": {"field": "text"}}}
]
},
{
"width": 247, "height": 409,
"resolve": {"axis": {"x": "independent", "y": "independent"}},
"layer": [
{"data": {"name": "pts"}, "transform": [{"filter": "datum.p==2 && datum.t=='G'"}],
 "mark": {"type": "point", "shape": "circle", "filled": true, "fill": "#8c8c8c", "strokeWidth": 0, "size": 60, "opacity": 1, "clip": true},
 "encoding": {
  "x": {"field": "m", "type": "quantitative", "scale": {"domain": [8.68, 11.98], "nice": false, "zero": false},
   "axis": {"orient": "bottom", "values": [8.8,9,9.2,9.4,9.6,9.8,10,10.2,10.4,10.6,10.8,11,11.2,11.4,11.6,11.8], "labelExpr": "abs(datum.value-round(datum.value))<0.01 ? format(datum.value,'d') : ''", "tickSize": {"condition": {"test": "abs(datum.value-round(datum.value))<0.01", "value": -14}, "value": -7}, "labelPadding": 30, "title": "log(M*/M\u2299)", "titleFontSize": 27, "titlePadding": 0}},
  "y": {"field": "s", "type": "quantitative", "scale": {"type": "log", "domain": [0.118, 2470], "nice": false},
   "axis": {"orient": "left", "values": [0.2,0.3,0.4,0.5,0.6,0.7,0.8,0.9,1,2,3,4,5,6,7,8,9,10,20,30,40,50,60,70,80,90,100,200,300,400,500,600,700,800,900,1000,2000], "labels": false, "tickSize": {"condition": {"test": "indexof([1,10,100,1000],datum.value)>=0", "value": -14}, "value": -7}, "title": null}}}},
{"data": {"name": "fits"}, "transform": [{"filter": "datum.p==2 && datum.f=='cl'"}],
 "mark": {"type": "line", "color": "#ff0000", "strokeWidth": 1.8, "clip": true},
 "encoding": {
  "x": {"field": "m", "type": "quantitative", "axis": {"orient": "top", "values": [8.8,9,9.2,9.4,9.6,9.8,10,10.2,10.4,10.6,10.8,11,11.2,11.4,11.6,11.8], "labels": false, "tickSize": {"condition": {"test": "abs(datum.value-round(datum.value))<0.01", "value": -14}, "value": -7}, "title": null}},
  "y": {"field": "s", "type": "quantitative", "axis": {"orient": "right", "values": [0.2,0.3,0.4,0.5,0.6,0.7,0.8,0.9,1,2,3,4,5,6,7,8,9,10,20,30,40,50,60,70,80,90,100,200,300,400,500,600,700,800,900,1000,2000], "labels": false, "tickSize": {"condition": {"test": "indexof([1,10,100,1000],datum.value)>=0", "value": -14}, "value": -7}, "title": null}},
  "detail": {"field": "seg"}}},
{"data": {"name": "fits"}, "transform": [{"filter": "datum.p==2 && datum.f=='fd'"}],
 "mark": {"type": "line", "color": "black", "strokeWidth": 2, "strokeDash": [12, 8], "clip": true},
 "encoding": {"x": {"field": "m", "type": "quantitative", "axis": null}, "y": {"field": "s", "type": "quantitative", "axis": null}, "detail": {"field": "seg"}}},
{"data": {"name": "fits"}, "transform": [{"filter": "datum.p==2 && datum.f=='z0'"}],
 "mark": {"type": "line", "color": "black", "strokeWidth": 1, "strokeDash": [8, 3, 2, 3], "clip": true},
 "encoding": {"x": {"field": "m", "type": "quantitative", "axis": null}, "y": {"field": "s", "type": "quantitative", "axis": null}, "detail": {"field": "seg"}}},
{"data": {"name": "pts"}, "transform": [{"filter": "datum.p==2 && datum.t=='Y'"}],
 "mark": {"type": "point", "shape": "triangle-up", "filled": true, "fill": "#ffff00", "stroke": "black", "strokeWidth": 1, "size": 240, "opacity": 1, "clip": true},
 "encoding": {"x": {"field": "m", "type": "quantitative", "axis": null}, "y": {"field": "s", "type": "quantitative", "axis": null}}},
{"data": {"name": "pts"}, "transform": [{"filter": "datum.p==2 && datum.t=='R'"}],
 "mark": {"type": "point", "shape": "circle", "filled": true, "fill": "#ff0000", "stroke": "black", "strokeWidth": 1, "size": 190, "opacity": 1, "clip": true},
 "encoding": {"x": {"field": "m", "type": "quantitative", "axis": null}, "y": {"field": "s", "type": "quantitative", "axis": null}}},
{"data": {"name": "vref"}, "transform": [{"filter": "datum.p==2"}],
 "mark": {"type": "rule", "color": "black", "strokeWidth": 2, "strokeDash": [2, 5]},
 "encoding": {"x": {"field": "m", "type": "quantitative", "axis": null}, "y": {"field": "s1", "type": "quantitative", "axis": null}, "y2": {"field": "s2"}}},
{"data": {"name": "href"}, "transform": [{"filter": "datum.p==2"}],
 "mark": {"type": "rule", "color": "black", "strokeWidth": 2, "strokeDash": [2, 5]},
 "encoding": {"y": {"field": "s", "type": "quantitative", "axis": null}}},
{"data": {"name": "zlab"}, "transform": [{"filter": "datum.p==2"}],
 "mark": {"type": "text", "font": "DejaVu Serif", "fontSize": 16, "angle": 311, "align": "center", "baseline": "middle", "color": "black"},
 "encoding": {"x": {"field": "m", "type": "quantitative", "axis": null}, "y": {"field": "s", "type": "quantitative", "axis": null}, "text": {"field": "text"}}},
{"data": {"name": "boxes"}, "transform": [{"filter": "datum.p==2"}],
 "mark": {"type": "rect", "fill": "white", "stroke": "black", "strokeWidth": 1.5},
 "encoding": {"x": {"field": "m1", "type": "quantitative", "axis": null}, "x2": {"field": "m2"}, "y": {"field": "s1", "type": "quantitative", "axis": null}, "y2": {"field": "s2"}}},
{"data": {"name": "keylines"}, "transform": [{"filter": "datum.p==2 && datum.f=='cl'"}],
 "mark": {"type": "line", "color": "#ff0000", "strokeWidth": 2},
 "encoding": {"x": {"field": "m", "type": "quantitative", "axis": null}, "y": {"field": "s", "type": "quantitative", "axis": null}}},
{"data": {"name": "keylines"}, "transform": [{"filter": "datum.p==2 && datum.f=='fd'"}],
 "mark": {"type": "line", "color": "black", "strokeWidth": 2.5, "strokeDash": [12, 8]},
 "encoding": {"x": {"field": "m", "type": "quantitative", "axis": null}, "y": {"field": "s", "type": "quantitative", "axis": null}}},
{"data": {"name": "keytext"}, "transform": [{"filter": "datum.p==2 && datum.role=='fit'"}],
 "mark": {"type": "text", "font": "DejaVu Serif", "fontSize": 19, "align": "left", "baseline": "middle", "color": "black"},
 "encoding": {"x": {"field": "m", "type": "quantitative", "axis": null}, "y": {"field": "s", "type": "quantitative", "axis": null}, "text": {"field": "text"}}},
{"data": {"name": "ptitle"}, "transform": [{"filter": "datum.p==2"}],
 "mark": {"type": "text", "font": "DejaVu Serif", "fontStyle": "italic", "fontSize": 31, "align": "left", "baseline": "middle", "color": "black"},
 "encoding": {"x": {"field": "m", "type": "quantitative", "axis": null}, "y": {"field": "s", "type": "quantitative", "axis": null}, "text": {"field": "text"}}}
]
},
{
"width": 247, "height": 409,
"resolve": {"axis": {"x": "independent", "y": "independent"}},
"layer": [
{"data": {"name": "pts"}, "transform": [{"filter": "datum.p==3 && datum.t=='G'"}],
 "mark": {"type": "point", "shape": "circle", "filled": true, "fill": "#8c8c8c", "strokeWidth": 0, "size": 60, "opacity": 1, "clip": true},
 "encoding": {
  "x": {"field": "m", "type": "quantitative", "scale": {"domain": [8.68, 11.98], "nice": false, "zero": false},
   "axis": {"orient": "bottom", "values": [8.8,9,9.2,9.4,9.6,9.8,10,10.2,10.4,10.6,10.8,11,11.2,11.4,11.6,11.8], "labelExpr": "abs(datum.value-round(datum.value))<0.01 ? format(datum.value,'d') : ''", "tickSize": {"condition": {"test": "abs(datum.value-round(datum.value))<0.01", "value": -14}, "value": -7}, "labelPadding": 30, "title": null}},
  "y": {"field": "s", "type": "quantitative", "scale": {"type": "log", "domain": [0.118, 2470], "nice": false},
   "axis": {"orient": "left", "values": [0.2,0.3,0.4,0.5,0.6,0.7,0.8,0.9,1,2,3,4,5,6,7,8,9,10,20,30,40,50,60,70,80,90,100,200,300,400,500,600,700,800,900,1000,2000], "labels": false, "tickSize": {"condition": {"test": "indexof([1,10,100,1000],datum.value)>=0", "value": -14}, "value": -7}, "title": null}}}},
{"data": {"name": "fits"}, "transform": [{"filter": "datum.p==3 && datum.f=='cl'"}],
 "mark": {"type": "line", "color": "#ff0000", "strokeWidth": 1.8, "clip": true},
 "encoding": {
  "x": {"field": "m", "type": "quantitative", "axis": {"orient": "top", "values": [8.8,9,9.2,9.4,9.6,9.8,10,10.2,10.4,10.6,10.8,11,11.2,11.4,11.6,11.8], "labels": false, "tickSize": {"condition": {"test": "abs(datum.value-round(datum.value))<0.01", "value": -14}, "value": -7}, "title": null}},
  "y": {"field": "s", "type": "quantitative", "axis": {"orient": "right", "values": [0.2,0.3,0.4,0.5,0.6,0.7,0.8,0.9,1,2,3,4,5,6,7,8,9,10,20,30,40,50,60,70,80,90,100,200,300,400,500,600,700,800,900,1000,2000], "labels": false, "tickSize": {"condition": {"test": "indexof([1,10,100,1000],datum.value)>=0", "value": -14}, "value": -7}, "title": null}},
  "detail": {"field": "seg"}}},
{"data": {"name": "fits"}, "transform": [{"filter": "datum.p==3 && datum.f=='fd'"}],
 "mark": {"type": "line", "color": "black", "strokeWidth": 2, "strokeDash": [12, 8], "clip": true},
 "encoding": {"x": {"field": "m", "type": "quantitative", "axis": null}, "y": {"field": "s", "type": "quantitative", "axis": null}, "detail": {"field": "seg"}}},
{"data": {"name": "fits"}, "transform": [{"filter": "datum.p==3 && datum.f=='z0'"}],
 "mark": {"type": "line", "color": "black", "strokeWidth": 1, "strokeDash": [8, 3, 2, 3], "clip": true},
 "encoding": {"x": {"field": "m", "type": "quantitative", "axis": null}, "y": {"field": "s", "type": "quantitative", "axis": null}, "detail": {"field": "seg"}}},
{"data": {"name": "pts"}, "transform": [{"filter": "datum.p==3 && datum.t=='Y'"}],
 "mark": {"type": "point", "shape": "triangle-up", "filled": true, "fill": "#ffff00", "stroke": "black", "strokeWidth": 1, "size": 240, "opacity": 1, "clip": true},
 "encoding": {"x": {"field": "m", "type": "quantitative", "axis": null}, "y": {"field": "s", "type": "quantitative", "axis": null}}},
{"data": {"name": "pts"}, "transform": [{"filter": "datum.p==3 && datum.t=='R'"}],
 "mark": {"type": "point", "shape": "circle", "filled": true, "fill": "#ff0000", "stroke": "black", "strokeWidth": 1, "size": 200, "opacity": 1, "clip": true},
 "encoding": {"x": {"field": "m", "type": "quantitative", "axis": null}, "y": {"field": "s", "type": "quantitative", "axis": null}}},
{"data": {"name": "vref"}, "transform": [{"filter": "datum.p==3"}],
 "mark": {"type": "rule", "color": "black", "strokeWidth": 2, "strokeDash": [2, 5]},
 "encoding": {"x": {"field": "m", "type": "quantitative", "axis": null}, "y": {"field": "s1", "type": "quantitative", "axis": null}, "y2": {"field": "s2"}}},
{"data": {"name": "href"}, "transform": [{"filter": "datum.p==3"}],
 "mark": {"type": "rule", "color": "black", "strokeWidth": 2, "strokeDash": [2, 5]},
 "encoding": {"y": {"field": "s", "type": "quantitative", "axis": null}}},
{"data": {"name": "zlab"}, "transform": [{"filter": "datum.p==3"}],
 "mark": {"type": "text", "font": "DejaVu Serif", "fontSize": 16, "angle": 311, "align": "center", "baseline": "middle", "color": "black"},
 "encoding": {"x": {"field": "m", "type": "quantitative", "axis": null}, "y": {"field": "s", "type": "quantitative", "axis": null}, "text": {"field": "text"}}},
{"data": {"name": "boxes"}, "transform": [{"filter": "datum.p==3"}],
 "mark": {"type": "rect", "fill": "white", "stroke": "black", "strokeWidth": 1.5},
 "encoding": {"x": {"field": "m1", "type": "quantitative", "axis": null}, "x2": {"field": "m2"}, "y": {"field": "s1", "type": "quantitative", "axis": null}, "y2": {"field": "s2"}}},
{"data": {"name": "keysym"}, "transform": [{"filter": "datum.p==3 && datum.t=='R'"}],
 "mark": {"type": "point", "shape": "circle", "filled": true, "fill": "#ff0000", "stroke": "black", "strokeWidth": 1, "size": 320, "opacity": 1},
 "encoding": {"x": {"field": "m", "type": "quantitative", "axis": null}, "y": {"field": "s", "type": "quantitative", "axis": null}}},
{"data": {"name": "keysym"}, "transform": [{"filter": "datum.p==3 && datum.t=='Y'"}],
 "mark": {"type": "point", "shape": "triangle-up", "filled": true, "fill": "#ffff00", "stroke": "black", "strokeWidth": 1, "size": 320, "opacity": 1},
 "encoding": {"x": {"field": "m", "type": "quantitative", "axis": null}, "y": {"field": "s", "type": "quantitative", "axis": null}}},
{"data": {"name": "keysym"}, "transform": [{"filter": "datum.p==3 && datum.t=='G'"}],
 "mark": {"type": "point", "shape": "circle", "filled": true, "fill": "#8c8c8c", "stroke": "black", "strokeWidth": 1, "size": 320, "opacity": 1},
 "encoding": {"x": {"field": "m", "type": "quantitative", "axis": null}, "y": {"field": "s", "type": "quantitative", "axis": null}}},
{"data": {"name": "keytext"}, "transform": [{"filter": "datum.p==3 && datum.role=='label'"}],
 "mark": {"type": "text", "font": "DejaVu Serif", "fontSize": 23, "align": "left", "baseline": "middle", "color": "black"},
 "encoding": {"x": {"field": "m", "type": "quantitative", "axis": null}, "y": {"field": "s", "type": "quantitative", "axis": null}, "text": {"field": "text"}}},
{"data": {"name": "keytext"}, "transform": [{"filter": "datum.p==3 && datum.role=='note'"}],
 "mark": {"type": "text", "font": "DejaVu Serif", "fontSize": 14, "fontWeight": "bold", "align": "left", "baseline": "middle", "color": "black"},
 "encoding": {"x": {"field": "m", "type": "quantitative", "axis": null}, "y": {"field": "s", "type": "quantitative", "axis": null}, "text": {"field": "text"}}},
{"data": {"name": "ptitle"}, "transform": [{"filter": "datum.p==3"}],
 "mark": {"type": "text", "font": "DejaVu Serif", "fontStyle": "italic", "fontSize": 31, "align": "left", "baseline": "middle", "color": "black"},
 "encoding": {"x": {"field": "m", "type": "quantitative", "axis": null}, "y": {"field": "s", "type": "quantitative", "axis": null}, "text": {"field": "text"}}}
]
}
],
"config": {
 "view": {"stroke": "black", "strokeWidth": 2},
 "concat": {"spacing": 0},
 "axis": {"domain": false, "grid": false, "tickColor": "black", "tickWidth": 2, "labelFont": "DejaVu Serif", "labelFontSize": 20, "labelColor": "black", "titleFont": "DejaVu Serif", "titleFontWeight": "normal", "titleColor": "black", "labelOverlap": false, "labelFlush": false, "labelBound": false}
}
}
